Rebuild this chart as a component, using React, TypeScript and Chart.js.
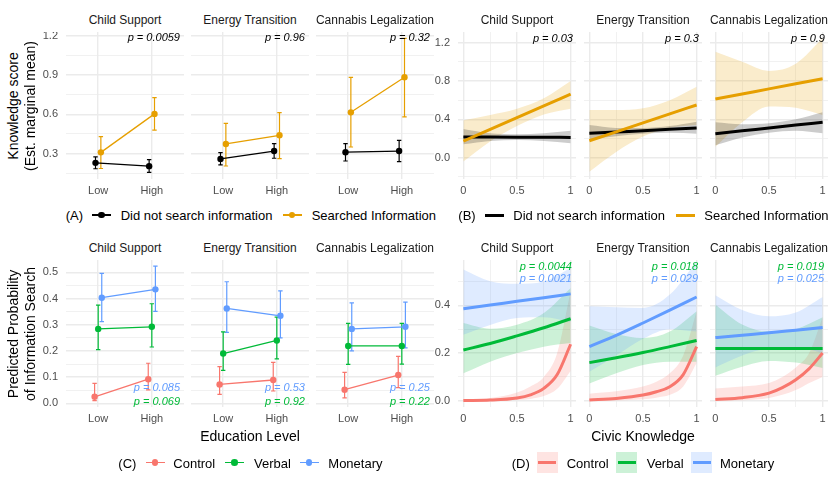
import React, { useEffect, useRef } from "react";
import { Chart, registerables } from "chart.js";

Chart.register(...registerables);

const FONT = '"Liberation Sans", Arial, Helvetica, sans-serif';
Chart.defaults.font.family = FONT;

// ---- shared labels ----
const facetNames = ["Child Support", "Energy Transition", "Cannabis Legalization"];
const educationLabels = ["Low", "High"];
const civicMajorTicks = [0, 0.5, 1];
const civicTickLabels = ["0", "0.5", "1"];
const civicMinorTicks = [0.25, 0.75];

// ---- (A) knowledge score by education level, [Low, High] per topic ----
const knowNoSearchMean = [[0.23, 0.205], [0.26, 0.32], [0.311, 0.32]];
const knowNoSearchLow = [[0.185, 0.157], [0.214, 0.265], [0.244, 0.239]];
const knowNoSearchHigh = [[0.275, 0.254], [0.308, 0.376], [0.376, 0.402]];
const knowSearchMean = [[0.31, 0.603], [0.374, 0.44], [0.615, 0.882]];
const knowSearchLow = [[0.187, 0.48], [0.206, 0.262], [0.351, 0.58]];
const knowSearchHigh = [[0.43, 0.727], [0.531, 0.612], [0.882, 1.179]];
const knowPValues = ["0.0059", "0.96", "0.32"];
const knowMajorTicks = [0.3, 0.6, 0.9, 1.2];
const knowMinorTicks = [0.15, 0.45, 0.75, 1.05];

// ---- (B) knowledge score by civic knowledge ----
const civicGrid = [0, 0.25, 0.5, 0.75, 1];
const bNoSearchFit = [[0.216, 0.215, 0.214, 0.213, 0.212], [0.254, 0.268, 0.282, 0.296, 0.31], [0.25, 0.28, 0.31, 0.34, 0.369]];
const bNoSearchUpper = [[0.3, 0.255, 0.245, 0.255, 0.28], [0.34, 0.31, 0.31, 0.33, 0.375], [0.37, 0.35, 0.36, 0.4, 0.473]];
const bNoSearchLower = [[0.14, 0.175, 0.185, 0.175, 0.15], [0.19, 0.225, 0.25, 0.26, 0.25], [0.13, 0.21, 0.26, 0.28, 0.254]];
const bSearchFit = [[0.174, 0.296, 0.418, 0.54, 0.662], [0.177, 0.27, 0.363, 0.457, 0.55], [0.612, 0.665, 0.718, 0.771, 0.824]];
const bSearchUpper = [[0.39, 0.445, 0.51, 0.62, 0.8], [0.497, 0.497, 0.515, 0.6, 0.74], [1.105, 1.0, 0.905, 0.98, 1.245]];
const bSearchLower = [[-0.04, 0.17, 0.33, 0.45, 0.51], [-0.146, 0.06, 0.22, 0.31, 0.34], [0.115, 0.37, 0.535, 0.52, 0.445]];
const bPValues = ["0.03", "0.3", "0.9"];
const bMajorTicks = [0, 0.4, 0.8, 1.2];
const bMinorTicks = [-0.2, 0.2, 0.6, 1.0];

// ---- (C) probability of information search by education level ----
const probControlMean = [[0.025, 0.092], [0.072, 0.089], [0.052, 0.108]];
const probControlLow = [[0.01, 0.051], [0.034, 0.047], [0.021, 0.06]];
const probControlHigh = [[0.076, 0.153], [0.14, 0.156], [0.118, 0.179]];
const probVerbalMean = [[0.284, 0.292], [0.19, 0.24], [0.219, 0.219]];
const probVerbalLow = [[0.205, 0.215], [0.126, 0.17], [0.149, 0.15]];
const probVerbalHigh = [[0.375, 0.38], [0.273, 0.329], [0.305, 0.305]];
const probMonetaryMean = [[0.403, 0.435], [0.362, 0.334], [0.284, 0.292]];
const probMonetaryLow = [[0.312, 0.351], [0.271, 0.25], [0.2, 0.212]];
const probMonetaryHigh = [[0.496, 0.524], [0.464, 0.429], [0.383, 0.386]];
const probPMonetary = ["0.085", "0.53", "0.25"];
const probPVerbal = ["0.069", "0.92", "0.22"];
const probMajorTicks = [0, 0.1, 0.2, 0.3, 0.4, 0.5];
const probMinorTicks = [0.05, 0.15, 0.25, 0.35, 0.45];

// ---- (D) probability of information search by civic knowledge ----
const civicGridFine = [0, 0.25, 0.5, 0.625, 0.75, 0.875, 1];
const dControlFit = [[0.001, 0.003, 0.012, 0.025, 0.052, 0.11, 0.237], [0.003, 0.01, 0.024, 0.038, 0.059, 0.11, 0.227], [0.005, 0.013, 0.032, 0.055, 0.088, 0.135, 0.2]];
const dControlUpper = [[0.006, 0.012, 0.035, 0.06, 0.1, 0.2, 0.46], [0.03, 0.04, 0.06, 0.08, 0.115, 0.19, 0.375], [0.052, 0.06, 0.075, 0.1, 0.14, 0.2, 0.35]];
const dControlLower = [[0, 0, 0.003, 0.008, 0.02, 0.05, 0.125], [0, 0.001, 0.006, 0.013, 0.025, 0.06, 0.158], [0, 0.002, 0.012, 0.025, 0.045, 0.075, 0.1]];
const dVerbalFit = [[0.213, 0.24, 0.272, 0.306, 0.344], [0.16, 0.18, 0.202, 0.227, 0.253], [0.219, 0.219, 0.219, 0.219, 0.219]];
const dVerbalUpper = [[0.326, 0.302, 0.319, 0.368, 0.473], [0.316, 0.28, 0.263, 0.29, 0.375], [0.403, 0.32, 0.29, 0.3, 0.35]];
const dVerbalLower = [[0.115, 0.164, 0.2, 0.227, 0.242], [0.073, 0.115, 0.15, 0.164, 0.164], [0.105, 0.143, 0.167, 0.16, 0.137]];
const dMonetaryFit = [[0.386, 0.401, 0.417, 0.432, 0.448], [0.227, 0.274, 0.326, 0.38, 0.435], [0.265, 0.275, 0.285, 0.296, 0.307]];
const dMonetaryUpper = [[0.55, 0.501, 0.49, 0.5, 0.557], [0.396, 0.392, 0.389, 0.445, 0.585], [0.442, 0.38, 0.354, 0.37, 0.435]];
const dMonetaryLower = [[0.277, 0.318, 0.347, 0.35, 0.33], [0.122, 0.19, 0.26, 0.3, 0.29], [0.14, 0.19, 0.22, 0.225, 0.2]];
const dPVerbal = ["0.0044", "0.018", "0.019"];
const dPMonetary = ["0.0021", "0.029", "0.025"];
const dMajorTicks = [0, 0.2, 0.4];
const dMinorTicks = [0.1, 0.3, 0.5];

// ---- colours ----
const BLACK = "#000000";
const ORANGE = "#E69F00";
const RED = "#F8766D";
const GREEN = "#00BA38";
const BLUE = "#619CFF";
const GRID = "#EBEBEB";
const TICK_COLOR = "#4D4D4D";

function withAlpha(hex: string, a: number) {
  const n = parseInt(hex.slice(1), 16);
  return `rgba(${(n >> 16) & 255},${(n >> 8) & 255},${n & 255},${a})`;
}

// ---- layout ----
const FACET_W = 118;
const LEFT_COLS = [66, 191, 316];
const RIGHT_COLS = [458, 584, 710];
const TOP_ROW = 32;
const BOTTOM_ROW = 260;
const FACET_H = 147;
const Y_AXIS_W = 40;
const X_AXIS_H = 22;

type AxisSpec = {
  min: number;
  max: number;
  major: number[];
  minor: number[];
  label: (v: number) => string;
};

const oneDecimal = (major: number[]) => (v: number) => (major.includes(v) ? v.toFixed(1) : "");

const xEducation: AxisSpec = {
  min: 0.4,
  max: 2.6,
  major: [1, 2],
  minor: [],
  label: (v) => educationLabels[v - 1] ?? "",
};
const xCivic: AxisSpec = {
  min: -0.05,
  max: 1.05,
  major: civicMajorTicks,
  minor: civicMinorTicks,
  label: (v) => {
    const i = civicMajorTicks.indexOf(v);
    return i >= 0 ? civicTickLabels[i] : "";
  },
};
const yKnow: AxisSpec = { min: 0.107, max: 1.227, major: knowMajorTicks, minor: knowMinorTicks, label: oneDecimal(knowMajorTicks) };
const yKnowCivic: AxisSpec = { min: -0.222, max: 1.311, major: bMajorTicks, minor: bMinorTicks, label: oneDecimal(bMajorTicks) };
const yProb: AxisSpec = { min: -0.014, max: 0.547, major: probMajorTicks, minor: probMinorTicks, label: oneDecimal(probMajorTicks) };
const yProbCivic: AxisSpec = { min: -0.026, max: 0.59, major: dMajorTicks, minor: dMinorTicks, label: oneDecimal(dMajorTicks) };

function axisOptions(a: AxisSpec, horizontal: boolean, size: number, showLabels: boolean) {
  const all = [...a.major, ...a.minor].sort((p, q) => p - q);
  return {
    type: "linear",
    position: horizontal ? "bottom" : "left",
    min: a.min,
    max: a.max,
    afterBuildTicks: (s: any) => {
      s.ticks = all.map((v) => ({ value: v }));
    },
    afterFit: (s: any) => {
      if (horizontal) s.height = size;
      else s.width = size;
      // keep the plotting area exactly the size of the canvas minus the axis strips
      s.paddingTop = 0;
      s.paddingBottom = 0;
      s.paddingLeft = 0;
      s.paddingRight = 0;
    },
    border: { display: false },
    grid: {
      color: GRID,
      drawTicks: false,
      lineWidth: (c: any) => (c.tick && a.major.includes(c.tick.value) ? 1.4 : 0.7),
    },
    ticks: {
      display: showLabels,
      autoSkip: false,
      maxRotation: 0,
      minRotation: 0,
      padding: horizontal ? 5 : 8,
      color: TICK_COLOR,
      font: { family: FONT, size: 11 },
      callback: (v: any) => a.label(Number(v)),
    },
  };
}

// vertical error bars with caps, drawn from each dataset's errLo / errHi values
const errorBarPlugin = {
  id: "errorBars",
  beforeDatasetsDraw(chart: any) {
    const { ctx, scales } = chart;
    chart.data.datasets.forEach((ds: any) => {
      if (!ds.errLo) return;
      ctx.save();
      ctx.strokeStyle = ds.borderColor;
      ctx.lineWidth = 1.2;
      ds.data.forEach((p: any, i: number) => {
        const px = scales.x.getPixelForValue(p.x);
        const top = scales.y.getPixelForValue(ds.errHi[i]);
        const bot = scales.y.getPixelForValue(ds.errLo[i]);
        const cap = 2.2;
        ctx.beginPath();
        ctx.moveTo(px, top);
        ctx.lineTo(px, bot);
        ctx.moveTo(px - cap, top);
        ctx.lineTo(px + cap, top);
        ctx.moveTo(px - cap, bot);
        ctx.lineTo(px + cap, bot);
        ctx.stroke();
      });
      ctx.restore();
    });
  },
};

function pointSeries(offset: number, mean: number[], lo: number[], hi: number[], color: string, order: number) {
  return {
    data: mean.map((y, i) => ({ x: i + 1 + offset, y })),
    errLo: lo,
    errHi: hi,
    borderColor: color,
    backgroundColor: color,
    borderWidth: 1.3,
    pointRadius: 3.2,
    pointBorderWidth: 0,
    pointBackgroundColor: color,
    fill: false,
    tension: 0,
    order,
  };
}

function fitLine(xs: number[], ys: number[], color: string, order: number) {
  return {
    data: xs.map((x, i) => ({ x, y: ys[i] })),
    borderColor: color,
    borderWidth: 3,
    pointRadius: 0,
    fill: false,
    cubicInterpolationMode: "monotone",
    order,
  };
}

function ribbon(xs: number[], upper: number[], lower: number[], fillColor: string, order: number) {
  return [
    {
      data: xs.map((x, i) => ({ x, y: upper[i] })),
      borderColor: "transparent",
      borderWidth: 0,
      pointRadius: 0,
      backgroundColor: fillColor,
      fill: "+1",
      cubicInterpolationMode: "monotone",
      order,
    },
    {
      data: xs.map((x, i) => ({ x, y: lower[i] })),
      borderColor: "transparent",
      borderWidth: 0,
      pointRadius: 0,
      fill: false,
      cubicInterpolationMode: "monotone",
      order,
    },
  ];
}

type FacetProps = {
  left: number;
  top: number;
  yLabels: boolean;
  x: AxisSpec;
  y: AxisSpec;
  datasets: any[];
};

function Facet({ left, top, yLabels, x, y, datasets }: FacetProps) {
  const ref = useRef<HTMLCanvasElement>(null);
  const yw = yLabels ? Y_AXIS_W : 0;
  useEffect(() => {
    const chart = new Chart(ref.current as HTMLCanvasElement, {
      type: "line",
      data: { datasets },
      options: {
        animation: false,
        responsive: false,
        maintainAspectRatio: false,
        devicePixelRatio: 1,
        layout: { padding: 0, autoPadding: false },
        plugins: {
          legend: { display: false },
          tooltip: { enabled: false },
          filler: { drawTime: "beforeDatasetsDraw" },
        },
        scales: {
          x: axisOptions(x, true, X_AXIS_H, true),
          y: axisOptions(y, false, yw, yLabels),
        },
      } as any,
      plugins: [errorBarPlugin],
    });
    return () => chart.destroy();
  }, []);
  return (
    <canvas
      ref={ref}
      width={FACET_W + yw}
      height={FACET_H + X_AXIS_H}
      style={{ position: "absolute", left: left - yw, top, width: FACET_W + yw, height: FACET_H + X_AXIS_H }}
    />
  );
}

type TxtProps = {
  x: number;
  y: number;
  size?: number;
  color?: string;
  anchor?: "start" | "middle" | "end";
  italic?: boolean;
  rotate?: boolean;
  children: React.ReactNode;
};

function Txt({ x, y, size = 11, color = "#000", anchor = "middle", italic = false, rotate = false, children }: TxtProps) {
  const tx = anchor === "start" ? "0" : anchor === "end" ? "-100%" : "-50%";
  return (
    <div
      style={{
        position: "absolute",
        left: x,
        top: y,
        transform: `translate(${tx},-50%)${rotate ? " rotate(-90deg)" : ""}`,
        fontFamily: FONT,
        fontSize: size,
        fontStyle: italic ? "italic" : "normal",
        color,
        lineHeight: 1,
        whiteSpace: "nowrap",
      }}
    >
      {children}
    </div>
  );
}

function PointKey({ x, y, color }: { x: number; y: number; color: string }) {
  return (
    <>
      <div style={{ position: "absolute", left: x, top: y - 0.65, width: 19, height: 1.3, background: color }} />
      <div style={{ position: "absolute", left: x + 9.5 - 3.3, top: y - 3.3, width: 6.6, height: 6.6, borderRadius: "50%", background: color }} />
    </>
  );
}

function LineKey({ x, y, color }: { x: number; y: number; color: string }) {
  return <div style={{ position: "absolute", left: x, top: y - 1.5, width: 18.5, height: 3, background: color }} />;
}

function BandKey({ x, y, color }: { x: number; y: number; color: string }) {
  return (
    <>
      <div style={{ position: "absolute", left: x, top: y - 10.5, width: 21, height: 21, background: withAlpha(color, 0.2) }} />
      <div style={{ position: "absolute", left: x + 1.5, top: y - 1.5, width: 18, height: 3, background: color }} />
    </>
  );
}

const STRIP_SIZE = 12;
const LEGEND_SIZE = 13;
const TITLE_SIZE = 14;

export default function App() {
  const facets = facetNames.map((_, f) => f);

  return (
    <div style={{ position: "fixed", left: 0, top: 0, width: 835, height: 481, background: "#fff", overflow: "hidden" }}>
      {/* (A) */}
      {facets.map((f) => (
        <Facet
          key={`a${f}`}
          left={LEFT_COLS[f]}
          top={TOP_ROW}
          yLabels={f === 0}
          x={xEducation}
          y={yKnow}
          datasets={[
            pointSeries(-0.05, knowNoSearchMean[f], knowNoSearchLow[f], knowNoSearchHigh[f], BLACK, 1),
            pointSeries(0.05, knowSearchMean[f], knowSearchLow[f], knowSearchHigh[f], ORANGE, 0),
          ]}
        />
      ))}
      {/* (B) */}
      {facets.map((f) => (
        <Facet
          key={`b${f}`}
          left={RIGHT_COLS[f]}
          top={TOP_ROW}
          yLabels={f === 0}
          x={xCivic}
          y={yKnowCivic}
          datasets={[
            fitLine(civicGrid, bSearchFit[f], ORANGE, 0),
            fitLine(civicGrid, bNoSearchFit[f], BLACK, 1),
            ...ribbon(civicGrid, bNoSearchUpper[f], bNoSearchLower[f], withAlpha(BLACK, 0.2), 10),
            ...ribbon(civicGrid, bSearchUpper[f], bSearchLower[f], withAlpha(ORANGE, 0.2), 11),
          ]}
        />
      ))}
      {/* (C) */}
      {facets.map((f) => (
        <Facet
          key={`c${f}`}
          left={LEFT_COLS[f]}
          top={BOTTOM_ROW}
          yLabels={f === 0}
          x={xEducation}
          y={yProb}
          datasets={[
            pointSeries(0.0667, probMonetaryMean[f], probMonetaryLow[f], probMonetaryHigh[f], BLUE, 0),
            pointSeries(0, probVerbalMean[f], probVerbalLow[f], probVerbalHigh[f], GREEN, 1),
            pointSeries(-0.0667, probControlMean[f], probControlLow[f], probControlHigh[f], RED, 2),
          ]}
        />
      ))}
      {/* (D) */}
      {facets.map((f) => (
        <Facet
          key={`d${f}`}
          left={RIGHT_COLS[f]}
          top={BOTTOM_ROW}
          yLabels={f === 0}
          x={xCivic}
          y={yProbCivic}
          datasets={[
            fitLine(civicGrid, dMonetaryFit[f], BLUE, 0),
            fitLine(civicGrid, dVerbalFit[f], GREEN, 1),
            fitLine(civicGridFine, dControlFit[f], RED, 2),
            ...ribbon(civicGrid, dMonetaryUpper[f], dMonetaryLower[f], withAlpha(BLUE, 0.2), 10),
            ...ribbon(civicGrid, dVerbalUpper[f], dVerbalLower[f], withAlpha(GREEN, 0.2), 11),
            ...ribbon(civicGridFine, dControlUpper[f], dControlLower[f], withAlpha(RED, 0.2), 12),
          ]}
        />
      ))}

      {/* facet strips */}
      {facets.map((f) => (
        <React.Fragment key={`s${f}`}>
          <Txt x={LEFT_COLS[f] + FACET_W / 2} y={20} size={STRIP_SIZE} color="#1A1A1A">{facetNames[f]}</Txt>
          <Txt x={RIGHT_COLS[f] + FACET_W / 2} y={20} size={STRIP_SIZE} color="#1A1A1A">{facetNames[f]}</Txt>
          <Txt x={LEFT_COLS[f] + FACET_W / 2} y={247.7} size={STRIP_SIZE} color="#1A1A1A">{facetNames[f]}</Txt>
          <Txt x={RIGHT_COLS[f] + FACET_W / 2} y={247.7} size={STRIP_SIZE} color="#1A1A1A">{facetNames[f]}</Txt>
        </React.Fragment>
      ))}

      {/* p-values */}
      {facets.map((f) => (
        <React.Fragment key={`p${f}`}>
          <Txt x={LEFT_COLS[f] + FACET_W - 4} y={37} anchor="end" italic>{`p = ${knowPValues[f]}`}</Txt>
          <Txt x={RIGHT_COLS[f] + FACET_W - 3} y={38} anchor="end" italic>{`p = ${bPValues[f]}`}</Txt>
          <Txt x={LEFT_COLS[f] + FACET_W - 4} y={386.7} anchor="end" italic color={BLUE}>{`p = ${probPMonetary[f]}`}</Txt>
          <Txt x={LEFT_COLS[f] + FACET_W - 4} y={400.7} anchor="end" italic color={GREEN}>{`p = ${probPVerbal[f]}`}</Txt>
          <Txt x={RIGHT_COLS[f] + FACET_W - 4} y={265.7} anchor="end" italic color={GREEN}>{`p = ${dPVerbal[f]}`}</Txt>
          <Txt x={RIGHT_COLS[f] + FACET_W - 4} y={278.3} anchor="end" italic color={BLUE}>{`p = ${dPMonetary[f]}`}</Txt>
        </React.Fragment>
      ))}

      {/* axis titles */}
      <Txt x={13.3} y={105.5} size={TITLE_SIZE} rotate>Knowledge score</Txt>
      <Txt x={30} y={105.5} size={TITLE_SIZE} rotate>(Est. marginal mean)</Txt>
      <Txt x={13.3} y={333.5} size={TITLE_SIZE} rotate>Predicted Probability</Txt>
      <Txt x={30} y={333.5} size={TITLE_SIZE} rotate>of Information Search</Txt>
      <Txt x={250} y={436} size={TITLE_SIZE}>Education Level</Txt>
      <Txt x={643} y={436} size={TITLE_SIZE}>Civic Knowledge</Txt>

      {/* legend (A) */}
      <Txt x={65.7} y={215} size={LEGEND_SIZE} anchor="start">(A)</Txt>
      <PointKey x={92} y={215} color={BLACK} />
      <Txt x={120.7} y={215} size={LEGEND_SIZE} anchor="start">Did not search information</Txt>
      <PointKey x={282.7} y={215} color={ORANGE} />
      <Txt x={311.7} y={215} size={LEGEND_SIZE} anchor="start">Searched Information</Txt>

      {/* legend (B) */}
      <Txt x={458.3} y={215} size={LEGEND_SIZE} anchor="start">(B)</Txt>
      <LineKey x={485} y={215} color={BLACK} />
      <Txt x={513.3} y={215} size={LEGEND_SIZE} anchor="start">Did not search information</Txt>
      <LineKey x={676} y={215} color={ORANGE} />
      <Txt x={704.3} y={215} size={LEGEND_SIZE} anchor="start">Searched Information</Txt>

      {/* legend (C) */}
      <Txt x={118.3} y={462.7} size={LEGEND_SIZE} anchor="start">(C)</Txt>
      <PointKey x={145.7} y={462.7} color={RED} />
      <Txt x={173.3} y={462.7} size={LEGEND_SIZE} anchor="start">Control</Txt>
      <PointKey x={225} y={462.7} color={GREEN} />
      <Txt x={254} y={462.7} size={LEGEND_SIZE} anchor="start">Verbal</Txt>
      <PointKey x={299.7} y={462.7} color={BLUE} />
      <Txt x={328.3} y={462.7} size={LEGEND_SIZE} anchor="start">Monetary</Txt>

      {/* legend (D) */}
      <Txt x={511.7} y={462.7} size={LEGEND_SIZE} anchor="start">(D)</Txt>
      <BandKey x={536.7} y={462.2} color={RED} />
      <Txt x={566.7} y={462.7} size={LEGEND_SIZE} anchor="start">Control</Txt>
      <BandKey x={616} y={462.2} color={GREEN} />
      <Txt x={646.7} y={462.7} size={LEGEND_SIZE} anchor="start">Verbal</Txt>
      <BandKey x={691} y={462.2} color={BLUE} />
      <Txt x={720} y={462.7} size={LEGEND_SIZE} anchor="start">Monetary</Txt>
    </div>
  );
}
